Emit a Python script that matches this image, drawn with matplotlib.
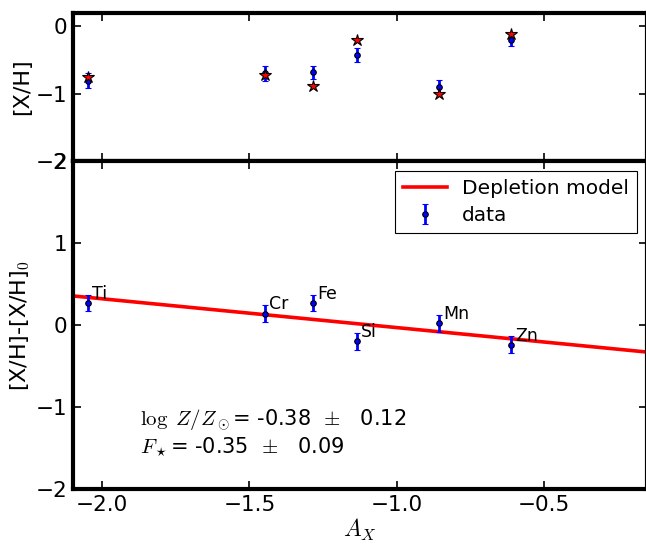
import numpy as np
import matplotlib
matplotlib.use("Agg")
import matplotlib.pyplot as plt

plt.rcParams['mathtext.fontset'] = 'cm'
plt.rcParams['font.family'] = 'DejaVu Sans'

# Depletion sequence A_X for each element
elements = ["Ti", "Cr", "Fe", "Si", "Mn", "Zn"]
A_X = [-2.048, -1.447, -1.285, -1.136, -0.857, -0.610]

# top panel: measured [X/H] with errors, and model [X/H] (stars)
xh_obs = [-0.81, -0.70, -0.685, -0.43, -0.90, -0.20]
xh_err = [0.11, 0.11, 0.10, 0.10, 0.10, 0.09]
xh_model = [-0.75, -0.72, -0.89, -0.21, -1.00, -0.11]

# bottom panel: [X/H]-[X/H]_0 with errors
dxh = [0.27, 0.14, 0.27, -0.20, 0.02, -0.24]
dxh_err = [0.10, 0.10, 0.095, 0.10, 0.10, 0.10]

# depletion model line end points
model_x = [-2.1, -0.15]
model_y = [0.355, -0.33]

# fit results
logZ, logZ_err = -0.38, 0.12
Fstar, Fstar_err = -0.35, 0.09


def style_axis(ax):
    for s in ax.spines.values():
        s.set_linewidth(3)
    ax.tick_params(direction='in', top=True, right=True, length=6, width=1.2,
                   labelsize=15.5, pad=4)


fig = plt.figure(figsize=(6.46, 5.46), dpi=100)
ax1 = fig.add_axes([0.1125, 0.7051, 0.889, 0.2716])
ax2 = fig.add_axes([0.1125, 0.1044, 0.889, 0.6007])

#--- top panel ---#
ax1.errorbar(A_X, xh_obs, yerr=xh_err, fmt='o', color='b', mfc='b', mec='k',
             ms=4, mew=0.8, elinewidth=2, capsize=2.5, capthick=2, zorder=2)
ax1.plot(A_X, xh_model, '*', color='r', mec='k', ms=9, mew=0.8, zorder=3)
ax1.set_xlim(-2.1, -0.15)
ax1.set_ylim(-2, 0.2)
ax1.set_yticks([-2, -1, 0])
ax1.set_xticks([-2.0, -1.5, -1.0, -0.5])
ax1.set_xticklabels([])
ax1.set_ylabel("[X/H]", fontsize=16)
ax1.yaxis.set_label_coords(-0.07, 0.5)
style_axis(ax1)

#--- bottom panel ---#
ax2.plot(model_x, model_y, color='r', lw=2.6, label="Depletion model", zorder=1)
ax2.errorbar(A_X, dxh, yerr=dxh_err, fmt='o', color='b', mfc='b', mec='k',
             ms=4, mew=0.8, elinewidth=2, capsize=2.5, capthick=2,
             label="data", zorder=2)
for el, x, y in zip(elements, A_X, dxh):
    ax2.text(x + 0.014, y + 0.05, el, fontsize=12.5)

ax2.text(-1.87, -1.23, r"$\log\ Z/Z_\odot$= %5.2f  $\pm$  %5.2f" % (logZ, logZ_err), fontsize=15)
ax2.text(-1.87, -1.57, r"$F_\star$= %5.2f  $\pm$  %5.2f" % (Fstar, Fstar_err), fontsize=15)

ax2.set_xlim(-2.1, -0.15)
ax2.set_ylim(-2, 2)
ax2.set_yticks([-2, -1, 0, 1, 2])
ax2.set_xticks([-2.0, -1.5, -1.0, -0.5])
ax2.set_xlabel("$A_X$", fontsize=17, labelpad=2)
ax2.set_ylabel("[X/H]-[X/H]$_0$", fontsize=16)
ax2.yaxis.set_label_coords(-0.07, 0.5)
style_axis(ax2)

leg = ax2.legend(loc='upper right', numpoints=1, fontsize=14.5, fancybox=False,
                 framealpha=1, edgecolor='k', borderaxespad=0.5, handlelength=2.2,
                 handletextpad=0.75, borderpad=0.4, labelspacing=0.4)
leg.get_frame().set_linewidth(0.8)

fig.savefig("out.png", dpi=100)
